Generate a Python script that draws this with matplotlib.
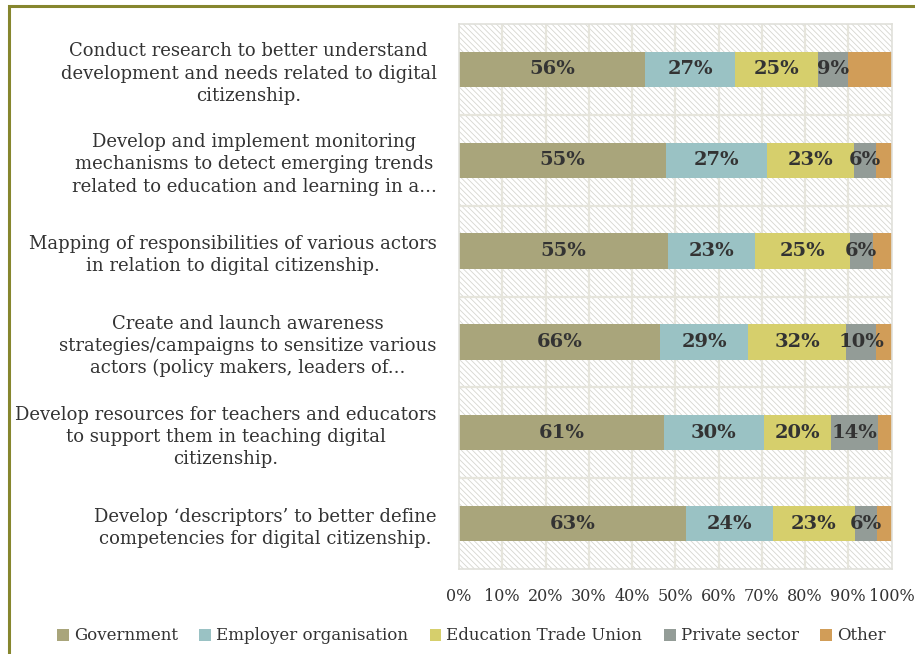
import matplotlib
matplotlib.use("Agg")
import matplotlib.pyplot as plt
from matplotlib.patches import Rectangle
import numpy as np

categories = [
    "Conduct research to better understand\ndevelopment and needs related to digital\ncitizenship.",
    "Develop and implement monitoring\nmechanisms to detect emerging trends\nrelated to education and learning in a...",
    "Mapping of responsibilities of various actors\nin relation to digital citizenship.",
    "Create and launch awareness\nstrategies/campaigns to sensitize various\nactors (policy makers, leaders of...",
    "Develop resources for teachers and educators\nto support them in teaching digital\ncitizenship.",
    "Develop \u2018descriptors\u2019 to better define\ncompetencies for digital citizenship.",
]
series_names = ["Government", "Employer organisation", "Education Trade Union", "Private sector", "Other"]
government = [56, 55, 55, 66, 61, 63]
employer = [27, 27, 23, 29, 30, 24]
education_tu = [25, 23, 25, 32, 20, 23]
private_sector = [9, 6, 6, 10, 14, 6]
other = [13, 4, 5, 5, 4, 4]
show_labels = [True, True, True, True, False]
colors = ["#a9a57b", "#9ac2c4", "#d6cf6c", "#939c97", "#d19d58"]
tick_labels = [f"{v}%" for v in range(0, 101, 10)]

plt.rcParams["font.family"] = ["DejaVu Serif"]
plt.rcParams["hatch.linewidth"] = 0.6
plt.rcParams["hatch.color"] = "#d6d6d0"

fig = plt.figure(figsize=(9.15, 6.54), dpi=100)
ax = fig.add_axes([459 / 915, 1 - 569 / 654, (891.5 - 459) / 915, (569 - 24) / 654])

# outer frame
fig.patches.append(Rectangle((9 / 915, -0.05), 1.2, 1 - 6 / 654 + 0.05,
                             transform=fig.transFigure, fill=False,
                             edgecolor="#86862e", linewidth=2.2, zorder=0))

data = np.array([government, employer, education_tu, private_sector, other], dtype=float)
totals = data.sum(axis=0)
frac = data / totals * 100
n = len(categories)
y = np.arange(n)

ax.set_xlim(0, 100)
ax.set_ylim(n - 0.5, -0.5)

# hatched background
ax.add_patch(Rectangle((0, 0), 1, 1, transform=ax.transAxes, facecolor="white",
                       hatch="\\\\\\\\\\\\", edgecolor="#d6d6d0", linewidth=0, zorder=0))
for xv in range(10, 100, 10):
    ax.axvline(xv, color="#e6e5dc", linewidth=1.6, zorder=0.5)
for yv in np.arange(0.5, n - 0.5, 1):
    ax.axhline(yv, color="#e6e5dc", linewidth=1.6, zorder=0.5)

left = np.zeros(n)
for i in range(len(series_names)):
    ax.barh(y, frac[i], left=left, height=0.39, color=colors[i],
            label=series_names[i], zorder=2)
    if show_labels[i]:
        for j in range(n):
            ax.text(left[j] + frac[i][j] / 2, y[j], f"{int(data[i][j])}%",
                    ha="center", va="center", fontsize=14, fontweight="bold",
                    color="#333333", zorder=3)
    left += frac[i]

ax.set_xticks(range(0, 101, 10))
ax.set_xticklabels(tick_labels, fontsize=11.5, color="#333333")
ax.set_yticks(y)
ax.set_yticklabels(categories, fontsize=13, color="#333333", multialignment="center",
                   linespacing=1.3)
ax.tick_params(axis="both", length=0)
ax.tick_params(axis="y", pad=16)
ax.tick_params(axis="x", pad=14)
for s in ax.spines.values():
    s.set_color("#e0e0da")
    s.set_linewidth(1.2)

handles, labels = ax.get_legend_handles_labels()
leg = fig.legend(handles, labels, loc="center", bbox_to_anchor=(0.515, 1 - 636 / 654),
                 ncol=5, frameon=False, fontsize=12, handlelength=0.7, handleheight=0.7,
                 handletextpad=0.3, columnspacing=1.3)
for t in leg.get_texts():
    t.set_color("#333333")

fig.savefig("out.png", dpi=100)
